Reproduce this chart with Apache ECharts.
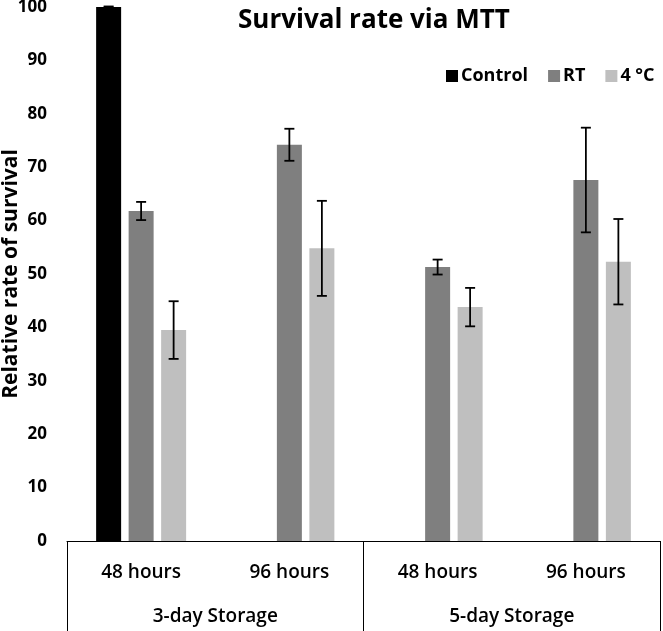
<!DOCTYPE html>
<html>
<head>
<meta charset="utf-8">
<script src="https://cdn.jsdelivr.net/npm/echarts@6/dist/echarts.min.js"></script>
<style>
html,body{margin:0;padding:0;background:#fff;}
#chart{width:663px;height:631px;}
</style>
</head>
<body>
<div id="chart"></div>
<script>
var categories = ['48 hours', '96 hours', '48 hours', '96 hours'];
var groups = ['3-day Storage', '5-day Storage'];
var seriesNames = ['Control', 'RT', '4 °C'];
var controlValues = [100, null, null, null];
var controlErr = [0.1, null, null, null];
var rtValues = [61.8, 74.2, 51.3, 67.6];
var rtErr = [1.7, 3.0, 1.4, 9.8];
var coldValues = [39.5, 54.8, 43.8, 52.3];
var coldErr = [5.4, 8.9, 3.6, 8.0];
var yTicks = [0, 10, 20, 30, 40, 50, 60, 70, 80, 90, 100];

var FONT = 'Open Sans';
var BAR_W = 25;
var BAR_GAP = 7.5;
var colors = ['#000000', '#7f7f7f', '#bfbfbf'];

var allValues = [controlValues, rtValues, coldValues];
var allErr = [controlErr, rtErr, coldErr];
var errData = [];
for (var s = 0; s < 3; s++) {
  for (var i = 0; i < categories.length; i++) {
    var v = allValues[s][i];
    if (v == null) continue;
    var e = allErr[s][i];
    errData.push([i, v - e, v + e, s]);
  }
}

var chart = echarts.init(document.getElementById('chart'));
var barSeries = seriesNames.map(function (name, s) {
  return {
    name: name,
    type: 'bar',
    xAxisIndex: 0,
    data: allValues[s],
    barWidth: BAR_W,
    barGap: (BAR_GAP / BAR_W * 100) + '%',
    itemStyle: { color: colors[s] },
    silent: true
  };
});

chart.setOption({
  animation: false,
  backgroundColor: '#ffffff',
  textStyle: { fontFamily: FONT },
  title: {
    text: 'Survival rate via MTT',
    left: 233,
    top: 3,
    textStyle: { fontFamily: FONT, fontSize: 26, fontWeight: 'bold', color: '#000' }
  },
  legend: {
    data: seriesNames,
    left: 441,
    top: 62,
    icon: 'rect',
    itemWidth: 12,
    itemHeight: 12,
    itemGap: 20,
    textStyle: { fontFamily: FONT, fontSize: 18, fontWeight: 'bold', color: '#000', padding: [0, 0, 0, -2] }
  },
  grid: { left: 67, right: 3, top: 7, bottom: 90, containLabel: false, outerBoundsMode: 'none' },
  xAxis: [
    {
      type: 'category',
      data: categories,
      position: 'bottom',
      axisLine: { show: true, lineStyle: { color: '#000', width: 1 } },
      axisTick: { show: false },
      axisLabel: { margin: 22, fontFamily: FONT, fontSize: 19, fontWeight: 600, color: '#000' },
      splitLine: { show: false }
    },
    {
      type: 'category',
      data: groups,
      position: 'bottom',
      axisLine: { show: false },
      axisTick: { show: true, length: 92, lineStyle: { color: '#000', width: 1 } },
      axisLabel: { margin: 66, fontFamily: FONT, fontSize: 19, fontWeight: 600, color: '#000' },
      splitLine: { show: false }
    }
  ],
  yAxis: {
    type: 'value',
    min: yTicks[0],
    max: yTicks[yTicks.length - 1],
    interval: 10,
    name: 'Relative rate of survival',
    nameLocation: 'middle',
    nameGap: 45,
    nameMoveOverlap: false,
    nameRotate: 90,
    nameTextStyle: { fontFamily: FONT, fontSize: 21, fontWeight: 'bold', color: '#000' },
    axisLine: { show: false },
    axisTick: { show: false },
    splitLine: { show: false },
    axisLabel: { margin: 20, fontFamily: FONT, fontSize: 17, fontWeight: 'bold', color: '#000' }
  },
  series: barSeries.concat([{
    type: 'custom',
    xAxisIndex: 0,
    silent: true,
    z: 10,
    data: errData,
    encode: { x: 0, y: [1, 2] },
    renderItem: function (params, api) {
      var idx = api.value(0);
      var s = api.value(3);
      var off = (s - 1) * (BAR_W + BAR_GAP);
      var lo = api.coord([idx, api.value(1)]);
      var hi = api.coord([idx, api.value(2)]);
      var x = lo[0] + off;
      var cap = 5;
      var st = { stroke: '#000', lineWidth: 1.8 };
      return {
        type: 'group',
        children: [
          { type: 'line', shape: { x1: x, y1: lo[1], x2: x, y2: hi[1] }, style: st },
          { type: 'line', shape: { x1: x - cap, y1: lo[1], x2: x + cap, y2: lo[1] }, style: st },
          { type: 'line', shape: { x1: x - cap, y1: hi[1], x2: x + cap, y2: hi[1] }, style: st }
        ]
      };
    }
  }])
});
</script>
</body>
</html>
